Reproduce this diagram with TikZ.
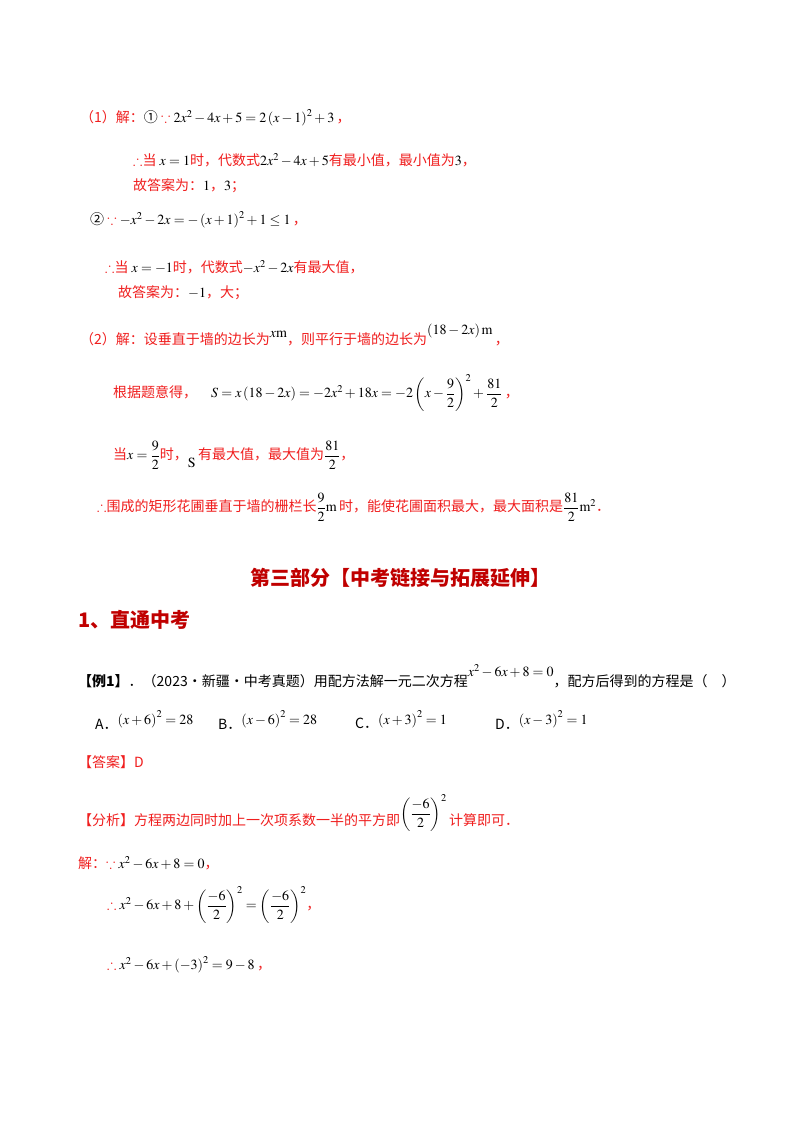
\documentclass[tikz,border=0pt]{standalone}
\usepackage{amsmath,amssymb}
\usepackage{mathptmx}
\usepackage[no-math]{fontspec}
\setmainfont{Noto Sans CJK SC}
\definecolor{ansred}{RGB}{240,30,30}
\definecolor{headred}{RGB}{192,0,0}
\newcommand{\R}[1]{{\color{ansred}#1}}
\newcommand{\mth}[1]{{\color{black}$#1$}}
\begin{document}
\begin{tikzpicture}[x=1pt,y=-1pt,
  ln/.style={anchor=west,inner sep=0pt,font=\fontsize{14}{16}\selectfont,text=ansred},
  blk/.style={anchor=west,inner sep=0pt,font=\fontsize{14}{16}\selectfont,text=black},
  head/.style={inner sep=0pt,font=\fontsize{20}{23}\selectfont\bfseries,text=headred}]
\useasboundingbox[fill=white] (0,0) rectangle (800,1132);
\node[ln] (l1) at (80,118) {（1）解：\mth{\text{①}}\ $\because$ \mth{2x^2-4x+5=2\left(x-1\right)^2+3}\,，};
\node[ln] (l2) at (133,160) {$\therefore$当 \mth{x=1}时，代数式\mth{2x^2-4x+5}有最小值，最小值为\mth{3}，};
\node[ln] (l3) at (133,186) {故答案为：\mth{1}，\mth{3}；};
\node[ln] (l4) at (90,220) {\mth{\text{②}}\ $\because$ \mth{-x^2-2x=-\left(x+1\right)^2+1\le 1}\,，};
\node[ln] (l5) at (105,267) {$\therefore$当 \mth{x=-1}时，代数式\mth{-x^2-2x}有最大值，};
\node[ln] (l6) at (118,293) {故答案为：\mth{-1}，大；};
\node[ln] (l7) at (80,335) {（2）解：设垂直于墙的边长为\raisebox{1ex}{\mth{x\mathrm{m}}}，则平行于墙的边长为\raisebox{1.4ex}{\mth{\left(18-2x\right)\mathrm{m}}}\,，};
\node[ln] (l8) at (113,393) {根据题意得，\quad\mth{S=x\left(18-2x\right)=-2x^2+18x=-2\left(x-\dfrac{9}{2}\right)^2+\dfrac{81}{2}}\,，};
\node[ln] (l9) at (113,455) {当\mth{x=\dfrac{9}{2}}时，\raisebox{-1ex}{\mth{\mathrm{S}}}\,有最大值，最大值为\mth{\dfrac{81}{2}}，};
\node[ln] (l10) at (97,507) {$\therefore$围成的矩形花圃垂直于墙的栅栏长\mth{\dfrac{9}{2}\mathrm{m}}\,时，能使花圃面积最大，最大面积是\mth{\dfrac{81}{2}\mathrm{m}^2}．};
\node[head] (t1) at (400,578) {第三部分【中考链接与拓展延伸】};
\node[head,anchor=west] (t2) at (78,620) {1、直通中考};
\node[blk] (ex) at (78,676) {{\bfseries【例1】}．（2023·新疆·中考真题）用配方法解一元二次方程\raisebox{1.3ex}{$x^2-6x+8=0$}，配方后得到的方程是（\quad）};
\node[blk] (oa) at (95,720) {A．\raisebox{0.6ex}{$\left(x+6\right)^2=28$}};
\node[blk] (ob) at (218,720) {B．\raisebox{0.6ex}{$\left(x-6\right)^2=28$}};
\node[blk] (oc) at (355,720) {C．\raisebox{0.6ex}{$\left(x+3\right)^2=1$}};
\node[blk] (od) at (495,720) {D．\raisebox{0.6ex}{$\left(x-3\right)^2=1$}};
\node[ln] (ans) at (78,762) {【答案】D};
\node[ln] (an) at (78,813) {【分析】方程两边同时加上一次项系数一半的平方即\raisebox{1ex}{\mth{\left(\dfrac{-6}{2}\right)^2}}\,计算即可．};
\node[ln] (s1) at (78,863) {解：$\because$ \mth{x^2-6x+8=0}，};
\node[ln] (s2) at (107,905) {$\therefore$ \mth{x^2-6x+8+\left(\dfrac{-6}{2}\right)^2=\left(\dfrac{-6}{2}\right)^2}，};
\node[ln] (s3) at (107,965) {$\therefore$ \mth{x^2-6x+\left(-3\right)^2=9-8}\,，};
\end{tikzpicture}
\end{document}
